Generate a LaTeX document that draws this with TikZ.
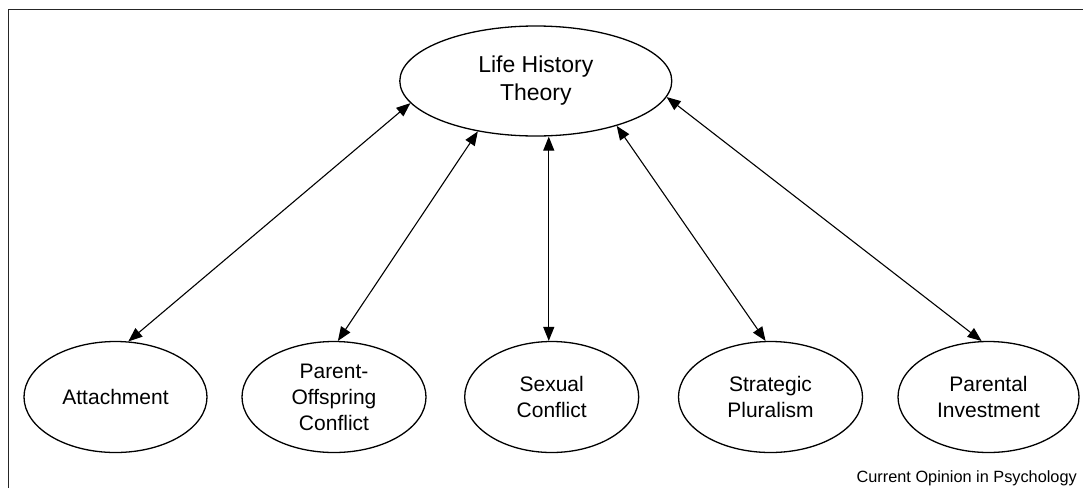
\documentclass[tikz,border=0pt]{standalone}
\usepackage{fontspec}
\setmainfont{Liberation Sans}
\usetikzlibrary{shapes.geometric,arrows.meta}
\begin{document}
\begin{tikzpicture}[x=1pt,y=-1pt,
  topic/.style={ellipse,draw=black,line width=1.3pt,inner sep=0pt,align=center,
    minimum height=111pt,font=\fontsize{21}{26}\selectfont},
  arr/.style={line width=1.1pt,{Triangle[width=11pt,length=14pt]}-{Triangle[width=11pt,length=14pt]}},
  frame/.style={draw=black!85,line width=1.7pt}]
\useasboundingbox (0,0) rectangle (1083,488);
\draw[frame] (8.5,488) -- (8.5,9.5) -- (1083,9.5);
\node[topic,minimum width=272pt,minimum height=110pt,font=\fontsize{23}{28}\selectfont] (lht) at (535.8,81) {Life History\\Theory};
\node[topic,minimum width=183pt] (att) at (115.5,397) {Attachment};
\node[topic,minimum width=184pt] (po) at (334,397) {Parent-\\Offspring\\Conflict};
\node[topic,minimum width=174pt] (sc) at (551.7,397) {Sexual\\Conflict};
\node[topic,minimum width=184pt] (sp) at (770.5,397) {Strategic\\Pluralism};
\node[topic,minimum width=181pt] (pi) at (988.5,397) {Parental\\Investment};
\draw[arr] (lht.190.9) -- (att.77.3);
\draw[arr] (lht.221.3) -- (po.86);
\draw[arr] (sc.93.5) -- (sc.93.5 |- lht.south);
\draw[arr] (lht.331.8) -- (sp.95.5);
\draw[arr] (lht.353.1) -- (pi.97);
\node[anchor=base east,inner sep=0pt,font=\fontsize{16.3}{19}\selectfont] (cap) at (1077,482.5) {Current Opinion in Psychology};
\end{tikzpicture}
\end{document}
